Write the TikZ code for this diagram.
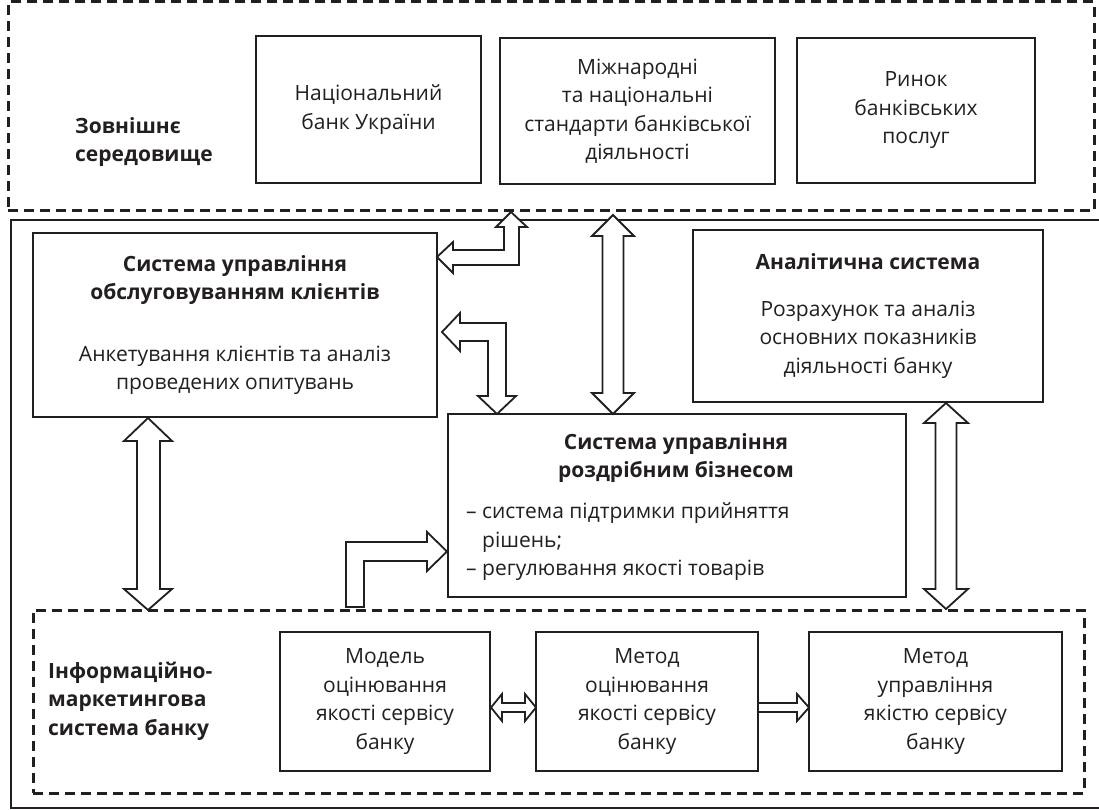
\documentclass[tikz,border=0pt]{standalone}
\usepackage{fontspec}
\setmainfont{Open Sans}
\definecolor{ink}{HTML}{231F20}
\newcommand{\fs}{\fontsize{21}{28.5}\selectfont}
\begin{document}
\begin{tikzpicture}[x=1pt,y=-1pt,
  box/.style={draw=ink, line width=2.4pt, inner sep=0pt, align=center, font=\fs, text=ink},
  dbox/.style={draw=ink, line width=3pt, dash pattern=on 10pt off 6pt, inner sep=0pt},
  frame/.style={draw=ink, line width=2.4pt},
  barrow/.style={draw=ink, line width=1.8pt, fill=white, line join=miter},
  txt/.style={font=\fs, text=ink, inner sep=0pt},
  bt/.style={font=\fs\bfseries}]
\useasboundingbox (0,0) rectangle (1099,810);

% outer frames
\node[dbox, minimum width=1086, minimum height=209] (ext) at (551,106.5) {};
\draw[frame] (1106,220) -- (11,220) -- (11,808) -- (1106,808);
\node[dbox, minimum width=1051, minimum height=183] (ims) at (558.5,701.5) {};

% external environment
\node[txt, anchor=west, align=left, bt] (extl) at (75,142) {Зовнішнє\\середовище};
\node[box, minimum width=225, minimum height=147] (nbu) at (368.5,109.5) {Національний\\банк України};
\node[box, minimum width=275, minimum height=146] (std) at (637.5,111) {Міжнародні\\та національні\\стандарти банківської\\діяльності};
\node[box, minimum width=238, minimum height=145] (mkt) at (916,110.5) {Ринок\\банківських\\послуг};

% inner systems
\node[box, minimum width=404, minimum height=184] (cl) at (235,325) {\textbf{Система управління}\\\textbf{обслуговуванням клієнтів}\\[33pt]Анкетування клієнтів та аналіз\\проведених опитувань};
\node[box, minimum width=350, minimum height=172] (ana) at (868,316) {\textbf{Аналітична система}\\[18pt]Розрахунок та аналіз\\основних показників\\діяльності банку};
\node[box, minimum width=458, minimum height=183] (ret) at (677,505.5) {};
\node[txt, align=center, bt] (rett) at (676,458) {Система управління\\роздрібним бізнесом};
\node[txt, align=left, anchor=west] (retl) at (466,542) {– система підтримки прийняття\\\hphantom{– }рішень;\\– регулювання якості товарів};

% information-marketing system
\node[txt, anchor=west, align=left, bt] (imsl) at (48,701) {Інформаційно-\\маркетингова\\система банку};
\node[box, minimum width=210, minimum height=139] (mod) at (385,701.5) {Модель\\оцінювання\\якості сервісу\\банку};
\node[box, minimum width=222, minimum height=139] (meto) at (647,701.5) {Метод\\оцінювання\\якості сервісу\\банку};
\node[box, minimum width=253, minimum height=139] (metu) at (935.5,701.5) {Метод\\управління\\якістю сервісу\\банку};

% block arrows
\draw[barrow] (437,257) -- (453,242) -- (453,250) -- (504,250) -- (504,227) -- (496,227) -- (511,212) -- (527,227) -- (519,227) -- (519,265) -- (453,265) -- (453,273) -- cycle;
\draw[barrow] (613,215) -- (634,236) -- (623.5,236) -- (623.5,393) -- (634,393) -- (613,414) -- (592,393) -- (602.5,393) -- (602.5,236) -- (592,236) -- cycle;
\draw[barrow] (442,332) -- (460,313) -- (460,323) -- (506,323) -- (506,396) -- (516,396) -- (497,414) -- (478,396) -- (488,396) -- (488,341) -- (460,341) -- (460,351) -- cycle;
\draw[barrow] (148,418) -- (172,441) -- (160,441) -- (160,589) -- (172,589) -- (148,610) -- (124,589) -- (137,589) -- (137,441) -- (124,441) -- cycle;
\draw[barrow] (946,403) -- (968,423) -- (956.5,423) -- (956.5,589) -- (968,589) -- (946,609) -- (924,589) -- (935.5,589) -- (935.5,423) -- (924,423) -- cycle;
\draw[barrow] (346,607) -- (346,542) -- (427,542) -- (427,532) -- (447,551.5) -- (427,571) -- (427,561) -- (364,561) -- (364,607) -- cycle;
\draw[barrow] (491,707.5) -- (502,694) -- (502,703) -- (525,703) -- (525,694) -- (536,707.5) -- (525,721) -- (525,712) -- (502,712) -- (502,721) -- cycle;
\draw[barrow] (758,703) -- (797,703) -- (797,694) -- (809,707.5) -- (797,721) -- (797,712) -- (758,712) -- cycle;
\end{tikzpicture}
\end{document}
